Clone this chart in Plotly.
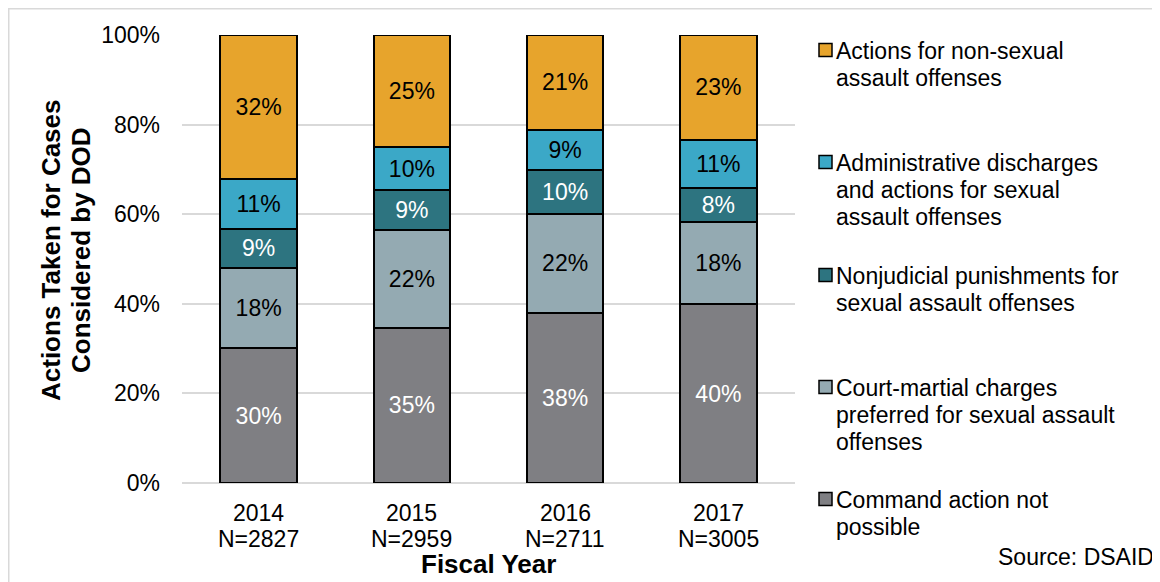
import plotly.graph_objects as go

# data (share of cases, %)
years = ['2014', '2015', '2016', '2017']
n_cases = [2827, 2959, 2711, 3005]

command_not_possible = [30.1, 34.6, 38.0, 39.9]
court_martial = [17.8, 21.8, 22.0, 18.3]
nonjudicial = [8.9, 8.9, 9.8, 7.6]
admin_discharge = [11.1, 9.8, 9.0, 10.8]
non_sexual = [32.1, 24.9, 21.2, 23.4]

# labels as printed on the bars
command_lbl = ['30%', '35%', '38%', '40%']
court_lbl = ['18%', '22%', '22%', '18%']
njp_lbl = ['9%', '9%', '10%', '8%']
admin_lbl = ['11%', '10%', '9%', '11%']
nonsex_lbl = ['32%', '25%', '21%', '23%']

series = [
    (['Command action not', 'possible'], command_not_possible, command_lbl, '#7f7f83', 'white'),
    (['Court-martial charges', 'preferred for sexual assault', 'offenses'], court_martial, court_lbl, '#94aab2', 'black'),
    (['Nonjudicial punishments for', 'sexual assault offenses'], nonjudicial, njp_lbl, '#2d7480', 'white'),
    (['Administrative discharges', 'and actions for sexual', 'assault offenses'], admin_discharge, admin_lbl, '#3ba8c7', 'black'),
    (['Actions for non-sexual', 'assault offenses'], non_sexual, nonsex_lbl, '#e7a42c', 'black'),
]

FONT = 'Liberation Sans, Arial, sans-serif'
FS = 23
# page has an 8px body margin, so the figure is 8px smaller each way
OFF = 8
W, H = 1160 - OFF, 582 - OFF
L, R, T, B = 174, 787, 27, 475

fig = go.Figure()
for name, vals, lbl, col, tcol in series:
    fig.add_trace(go.Bar(
        x=years, y=vals, name=' '.join(name), text=lbl, textposition='inside',
        insidetextanchor='middle', textangle=0,
        textfont=dict(family=FONT, size=FS, color=tcol),
        marker=dict(color=col, line=dict(color='black', width=2)),
        showlegend=False,
    ))

# page pixel -> paper coordinate
def px_x(p):
    return (p - OFF - L) / (R - L)

def px_y(p):
    return (B - (p - OFF)) / (B - T)

shapes = [dict(type='rect', xref='paper', yref='paper',
               x0=px_x(8.75), x1=px_x(1157), y0=px_y(620), y1=px_y(8.75),
               line=dict(color='#d9d9d9', width=1.5), layer='below')]
annotations = []

def text_at(x, y, s, xanchor='left', size=FS, xref='paper', angle=0):
    annotations.append(dict(xref=xref, yref='paper', x=x, y=y, text=s, showarrow=False,
                            xanchor=xanchor, yanchor='middle', textangle=angle,
                            font=dict(family=FONT, size=size, color='black')))

# legend drawn by hand, top entry first
first_line_y = [50, 162, 275, 387, 499]
for (name, vals, lbl, col, tcol), ly in zip(series[::-1], first_line_y):
    shapes.append(dict(type='rect', xref='paper', yref='paper',
                       x0=px_x(819), x1=px_x(832), y0=px_y(ly + 6.5), y1=px_y(ly - 6.5),
                       fillcolor=col, line=dict(color='black', width=1.5)))
    for i, line in enumerate(name):
        text_at(px_x(834), px_y(ly + 1 + i * 27.2), line)

# category labels (two lines under each bar); x is the category index
for i, (yr, n) in enumerate(zip(years, n_cases)):
    text_at(i, px_y(513), yr, xanchor='center', xref='x')
    text_at(i, px_y(539), 'N=%d' % n, xanchor='center', xref='x')

# axis titles
text_at(px_x(488), px_y(564), '<b>Fiscal Year</b>', xanchor='center', size=26)
text_at(px_x(51), px_y(250), '<b>Actions Taken for Cases</b>', xanchor='center', size=26, angle=-90)
text_at(px_x(81), px_y(250), '<b>Considered by DOD</b>', xanchor='center', size=26, angle=-90)

annotations.append(dict(xref='paper', yref='paper', x=px_x(1156), y=px_y(557),
                        xanchor='right', yanchor='middle', showarrow=False,
                        text='Source: DSAID', font=dict(family=FONT, size=FS, color='black')))

fig.update_layout(
    width=W, height=H,
    barmode='stack', bargap=0.5,
    plot_bgcolor='white', paper_bgcolor='white',
    margin=dict(l=L, r=W - R, t=T, b=H - B),
    font=dict(family=FONT, size=FS, color='black'),
    uniformtext=dict(minsize=8, mode='show'),
    shapes=shapes, annotations=annotations,
    xaxis=dict(type='category', range=[-0.5, len(years) - 0.5], showticklabels=False,
               showline=False, ticks=''),
    yaxis=dict(range=[0, 100], dtick=20, ticksuffix='%', tickfont=dict(size=FS),
               ticklabelstandoff=21,
               showgrid=True, gridcolor='#d9d9d9', gridwidth=2, zeroline=True,
               zerolinecolor='#d9d9d9', zerolinewidth=2, ticks=''),
)

fig.write_html("out.html")
